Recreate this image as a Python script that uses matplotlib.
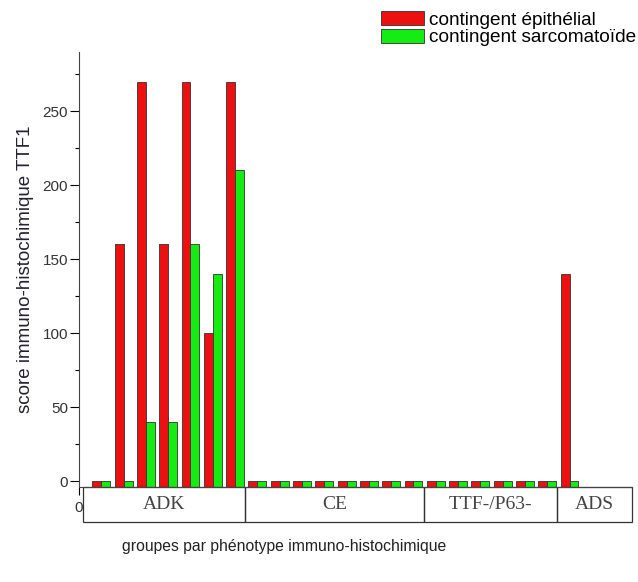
import numpy as np
import matplotlib
matplotlib.use("Agg")
import matplotlib.pyplot as plt
from matplotlib.patches import Rectangle
import matplotlib.transforms as mtransforms

plt.rcParams['font.family'] = ['Liberation Sans', 'DejaVu Sans']

# scores TTF1 par cas, dans l'ordre des groupes
groupes = ['ADK', 'CE', 'TTF-/P63-', 'ADS']
n_cas = [7, 8, 6, 1]
epithelial = [0, 160, 270, 160, 270, 100, 270,
              0, 0, 0, 0, 0, 0, 0, 0,
              0, 0, 0, 0, 0, 0,
              140]
sarcomatoide = [0, 0, 40, 40, 160, 140, 210,
                0, 0, 0, 0, 0, 0, 0, 0,
                0, 0, 0, 0, 0, 0,
                0]

ymin, ymax = -4, 290
x = np.arange(1, len(epithelial) + 1)
w = 0.4

fig = plt.figure(figsize=(6.38, 5.82), dpi=100)
ax = fig.add_axes([79/638, 1-487/582, 553/638, 435/582])

b1 = ax.bar(x - w/2, np.array(epithelial) - ymin, w, bottom=ymin,
            color='#ec1010', edgecolor='#333333', linewidth=0.6,
            label='contingent épithélial')
b2 = ax.bar(x + w/2, np.array(sarcomatoide) - ymin, w, bottom=ymin,
            color='#14ec14', edgecolor='#333333', linewidth=0.6,
            label='contingent sarcomatoïde')

ax.set_xlim(0, 24.8)
ax.set_ylim(ymin, ymax)
ax.set_yticks(np.arange(0, 251, 50))
ax.set_yticks(np.arange(25, 290, 50), minor=True)
ax.set_xticks([0])
ax.set_xticklabels(['0'])
ax.tick_params(axis='y', which='major', length=6.5, width=0.8, labelsize=11,
               pad=1.5, labelcolor='#333333')
ax.tick_params(axis='y', which='minor', length=3, width=0.8)
ax.tick_params(axis='x', length=6, width=0.8, labelsize=11, pad=4,
               labelcolor='#333333')
for s in ['top', 'right']:
    ax.spines[s].set_visible(False)
ax.spines['left'].set_color('#444444')
ax.spines['bottom'].set_color('#444444')

# boîtes des groupes sous l'axe
trans = mtransforms.blended_transform_factory(ax.transData, ax.transAxes)
bords = [0.2] + list(np.cumsum(n_cas)[:-1] + 0.45) + [24.8]
box_h = 35/435
for g, x0, x1 in zip(groupes, bords[:-1], bords[1:]):
    ax.add_patch(Rectangle((x0, -box_h), x1 - x0, box_h, transform=trans,
                           fill=False, edgecolor='#333333', linewidth=0.9,
                           clip_on=False))
    ax.text((x0 + x1) / 2, -box_h / 2, g, transform=trans, ha='center',
            va='center', fontsize=14, family='Liberation Serif',
            color='#444444')

ax.set_ylabel('score immuno-histochimique TTF1', fontsize=13.5, labelpad=6,
              color='#222233')
fig.text(284/638, 1-546/582, 'groupes par phénotype immuno-histochimique',
         ha='center', va='center', fontsize=11.3, color='#222222')

fig.legend(handles=[b1, b2], loc='upper left',
           bbox_to_anchor=(381/638, 1-11/582), frameon=False, fontsize=13.7,
           handlelength=2.27, handleheight=0.74, handletextpad=0.26,
           labelspacing=0.02, borderpad=0, borderaxespad=0)

fig.savefig('out.png', dpi=100)
